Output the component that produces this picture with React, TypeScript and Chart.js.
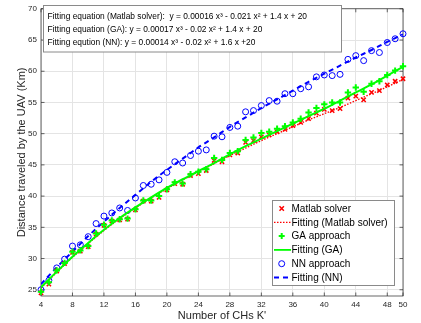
import React, { useEffect, useRef } from "react";
import { Chart, registerables } from "chart.js";
Chart.register(...registerables);

const kValues = [4, 5, 6, 7, 8, 9, 10, 11, 12, 13, 14, 15, 16, 17, 18, 19, 20, 21, 22, 23, 24, 25, 26, 27, 28, 29, 30, 31, 32, 33, 34, 35, 36, 37, 38, 39, 40, 41, 42, 43, 44, 45, 46, 47, 48, 49, 50];
const matlabSolver = [24.5, 25.9, 28.0, 29.2, 31.0, 31.2, 31.9, 33.9, 35.3, 36.0, 36.2, 36.3, 37.8, 39.2, 39.2, 39.8, 41.0, 42.0, 41.9, 43.3, 43.6, 44.1, 45.7, 45.5, 46.6, 46.9, 48.6, 48.9, 49.5, 49.8, 50.3, 50.7, 51.3, 51.8, 52.4, 53.3, 53.9, 53.7, 54.0, 55.7, 56.0, 55.4, 56.6, 56.9, 57.8, 58.4, 58.8];
const gaApproach = [24.7, 26.2, 28.1, 29.3, 31.1, 31.3, 32.0, 34.0, 35.4, 36.1, 36.3, 36.4, 37.9, 39.3, 39.3, 40.0, 41.1, 42.2, 42.0, 43.5, 43.9, 44.3, 46.1, 45.8, 46.9, 47.2, 49.0, 49.4, 50.1, 50.3, 50.8, 51.2, 51.8, 52.4, 53.4, 54.1, 54.7, 55.0, 55.0, 56.6, 57.4, 56.7, 58.0, 58.4, 59.4, 60.1, 60.8];
const nnApproach = [25.0, 26.5, 28.5, 29.9, 32.0, 32.2, 33.5, 35.6, 36.8, 37.3, 38.1, 37.7, 39.7, 41.7, 41.9, 42.6, 43.8, 45.5, 45.3, 46.5, 47.2, 47.4, 49.6, 49.5, 51.0, 51.2, 53.5, 53.7, 54.5, 55.3, 55.2, 56.4, 56.4, 57.2, 57.5, 59.1, 59.4, 59.3, 59.5, 61.9, 62.5, 61.7, 63.3, 63.0, 64.6, 65.2, 66.0];

const fitK = [4, 6, 8, 10, 12, 14, 16, 18, 20, 22, 24, 26, 28, 30, 32, 34, 36, 38, 40, 42, 44, 46, 48, 50];
const fitMatlab = [25.3, 27.8, 30.2, 32.4, 34.5, 36.4, 38.1, 39.7, 41.2, 42.6, 43.9, 45.2, 46.5, 47.7, 48.9, 50.0, 51.1, 52.2, 53.2, 54.2, 55.3, 56.4, 57.5, 58.7];
const fitGA = [25.4, 27.9, 30.3, 32.5, 34.6, 36.5, 38.2, 39.8, 41.3, 42.7, 44.0, 45.3, 46.7, 48.0, 49.2, 50.4, 51.6, 52.8, 54.0, 55.3, 56.6, 57.9, 59.3, 60.7];
const fitNN = [25.9, 28.6, 31.1, 33.6, 35.9, 38.1, 40.2, 42.3, 44.2, 46.0, 47.8, 49.4, 51.1, 52.6, 54.1, 55.5, 56.9, 58.3, 59.6, 60.9, 62.2, 63.4, 64.7, 65.9];

const xTicks = [4, 8, 12, 16, 20, 24, 28, 32, 36, 40, 44, 48, 50];
const yTicks = [25, 30, 35, 40, 45, 50, 55, 60, 65, 70];

const seriesLabels = ["Matlab solver", "Fitting (Matlab solver)", "GA approach", "Fitting (GA)", "NN approach", "Fitting (NN)"];
const equationLines = [
  "Fitting equation (Matlab solver):  y = 0.00016 x\u00B3 - 0.021 x\u00B2 + 1.4 x + 20",
  "Fitting equation (GA): y = 0.00017 x\u00B3 - 0.02 x\u00B2 + 1.4 x + 20",
  "Fitting eqution (NN): y = 0.00014 x\u00B3 - 0.02 x\u00B2 + 1.6 x +20",
];
const xTitle = "Number of CHs K'";
const yTitle = "Distance traveled by the UAV (Km)";

const FONT = "'Liberation Sans', Arial, Helvetica, sans-serif";
const RED = "#ff0000";
const GREEN = "#00ff00";
const BLUE = "#0000ff";
const AXIS = "#262626";

function pts(xs: number[], ys: number[]) {
  return xs.map((x, i) => ({ x, y: ys[i] }));
}

function drawMarker(ctx: CanvasRenderingContext2D, kind: string, x: number, y: number) {
  ctx.save();
  ctx.beginPath();
  if (kind === "x") {
    ctx.strokeStyle = RED; ctx.lineWidth = 1.5;
    const r = 2.2;
    ctx.moveTo(x - r, y - r); ctx.lineTo(x + r, y + r);
    ctx.moveTo(x + r, y - r); ctx.lineTo(x - r, y + r);
  } else if (kind === "+") {
    ctx.strokeStyle = GREEN; ctx.lineWidth = 2;
    const r = 3;
    ctx.moveTo(x - r, y); ctx.lineTo(x + r, y);
    ctx.moveTo(x, y - r); ctx.lineTo(x, y + r);
  } else {
    ctx.strokeStyle = BLUE; ctx.lineWidth = 1;
    ctx.arc(x, y, 3, 0, Math.PI * 2);
  }
  ctx.stroke();
  ctx.restore();
}

function drawLineSample(ctx: CanvasRenderingContext2D, color: string, width: number, dash: number[], x0: number, x1: number, y: number) {
  ctx.save();
  ctx.strokeStyle = color; ctx.lineWidth = width; ctx.setLineDash(dash);
  ctx.beginPath(); ctx.moveTo(x0, y); ctx.lineTo(x1, y); ctx.stroke();
  ctx.restore();
}

const framePlugin = {
  id: "frame",
  beforeDatasetsDraw(chart: any) {
    const { ctx, chartArea: a, scales } = chart;
    const xs = scales.x, ys = scales.y;
    ctx.save();
    ctx.strokeStyle = AXIS;
    ctx.lineWidth = 0.7;
    ctx.strokeRect(a.left, a.top, a.right - a.left, a.bottom - a.top);
    ctx.beginPath();
    const tl = 3.5;
    xTicks.forEach((v) => {
      const px = xs.getPixelForValue(v);
      ctx.moveTo(px, a.bottom); ctx.lineTo(px, a.bottom - tl);
      ctx.moveTo(px, a.top); ctx.lineTo(px, a.top + tl);
    });
    yTicks.forEach((v) => {
      const py = ys.getPixelForValue(v);
      ctx.moveTo(a.left, py); ctx.lineTo(a.left + tl, py);
      ctx.moveTo(a.right, py); ctx.lineTo(a.right - tl, py);
    });
    ctx.stroke();
    ctx.restore();
  },
  afterDraw(chart: any) {
    const ctx: CanvasRenderingContext2D = chart.ctx;
    // equation box
    ctx.save();
    ctx.fillStyle = "#ffffff";
    ctx.fillRect(43.5, 5.5, 298, 46.5);
    ctx.strokeStyle = "#8a8a8a";
    ctx.lineWidth = 1;
    ctx.strokeRect(43.5, 5.5, 298, 46.5);
    ctx.fillStyle = "#000000";
    ctx.font = `8.4px ${FONT}`;
    ctx.textBaseline = "middle";
    ctx.textAlign = "left";
    const eqY = [16.5, 29.5, 42.5];
    equationLines.forEach((t, i) => ctx.fillText(t, 47.5, eqY[i]));

    // legend box
    const lx = 272.5, ly = 200.5, lw = 122, lh = 85;
    ctx.fillStyle = "#ffffff";
    ctx.fillRect(lx, ly, lw, lh);
    ctx.strokeStyle = "#8a8a8a";
    ctx.strokeRect(lx, ly, lw, lh);
    ctx.font = `10px ${FONT}`;
    ctx.fillStyle = "#000000";
    const rowY = (i: number) => 208.5 + i * 13.8;
    seriesLabels.forEach((t, i) => ctx.fillText(t, 291.5, rowY(i) + 0.5));
    drawMarker(ctx, "x", 281.7, rowY(0));
    drawLineSample(ctx, RED, 1.3, [1.5, 1.5], 274, 291, rowY(1));
    drawMarker(ctx, "+", 281.7, rowY(2));
    drawLineSample(ctx, GREEN, 1.8, [], 274, 291, rowY(3));
    drawMarker(ctx, "o", 281.7, rowY(4));
    drawLineSample(ctx, BLUE, 1.8, [5, 4], 274, 291, rowY(5));
    ctx.restore();
  },
};

export default function App() {
  const ref = useRef<HTMLCanvasElement>(null);
  useEffect(() => {
    const canvas = ref.current;
    if (!canvas) return;
    const chart = new Chart(canvas, {
      type: "scatter",
      data: {
        datasets: [
          {
            label: seriesLabels[0], data: pts(kValues, matlabSolver), showLine: false,
            pointStyle: "crossRot", pointRadius: 3, pointBorderWidth: 1.5,
            pointBorderColor: RED, borderColor: RED, backgroundColor: RED, order: 4, clip: false,
          },
          {
            label: seriesLabels[1], data: pts(fitK, fitMatlab), showLine: true, pointRadius: 0,
            borderColor: RED, borderWidth: 1.4, borderDash: [1.5, 1.5], cubicInterpolationMode: "monotone", order: 3,
          },
          {
            label: seriesLabels[2], data: pts(kValues, gaApproach), showLine: false,
            pointStyle: "cross", pointRadius: 3.2, pointBorderWidth: 2,
            pointBorderColor: GREEN, borderColor: GREEN, backgroundColor: GREEN, order: 2, clip: false,
          },
          {
            label: seriesLabels[3], data: pts(fitK, fitGA), showLine: true, pointRadius: 0,
            borderColor: GREEN, borderWidth: 2, cubicInterpolationMode: "monotone", order: 1,
          },
          {
            label: seriesLabels[4], data: pts(kValues, nnApproach), showLine: false,
            pointStyle: "circle", pointRadius: 3, pointBorderWidth: 1,
            pointBorderColor: BLUE, borderColor: BLUE, pointBackgroundColor: "rgba(0,0,0,0)", backgroundColor: "rgba(0,0,0,0)", order: 6, clip: false,
          },
          {
            label: seriesLabels[5], data: pts(fitK, fitNN), showLine: true, pointRadius: 0,
            borderColor: BLUE, borderWidth: 2, borderDash: [5, 4], cubicInterpolationMode: "monotone", order: 5,
          },
        ] as any,
      },
      options: {
        animation: false,
        responsive: false,
        maintainAspectRatio: false,
        layout: { padding: { top: 4, right: 18, left: 0, bottom: 0 } },
        plugins: { legend: { display: false }, tooltip: { enabled: false } },
        scales: {
          x: {
            type: "linear", min: 4, max: 50,
            afterBuildTicks: (s: any) => { s.ticks = xTicks.map((v) => ({ value: v })); },
            afterFit: (s: any) => { s.height = 27; },
            ticks: { font: { family: FONT, size: 8 }, color: AXIS, padding: 4, maxRotation: 0, autoSkip: false },
            grid: { color: "#e4e4e4", lineWidth: 1, drawTicks: false },
            border: { display: false },
            title: { display: true, text: xTitle, font: { family: FONT, size: 11 }, color: AXIS, padding: { top: 0, bottom: 0 } },
          },
          y: {
            type: "linear", min: 24, max: 70,
            afterBuildTicks: (s: any) => { s.ticks = yTicks.map((v) => ({ value: v })); },
            afterFit: (s: any) => { s.width = 41; },
            ticks: { font: { family: FONT, size: 8 }, color: AXIS, padding: 4, autoSkip: false },
            grid: { color: "#e4e4e4", lineWidth: 1, drawTicks: false },
            border: { display: false },
            title: { display: true, text: yTitle, font: { family: FONT, size: 11 }, color: AXIS, padding: { top: 15, bottom: 0 } },
          },
        },
      } as any,
      plugins: [framePlugin],
    });
    return () => chart.destroy();
  }, []);
  return (
    <div style={{ position: "fixed", left: 0, top: 0, width: 421, height: 323, background: "#fff" }}>
      <canvas ref={ref} width={421} height={323} style={{ display: "block" }} />
    </div>
  );
}
